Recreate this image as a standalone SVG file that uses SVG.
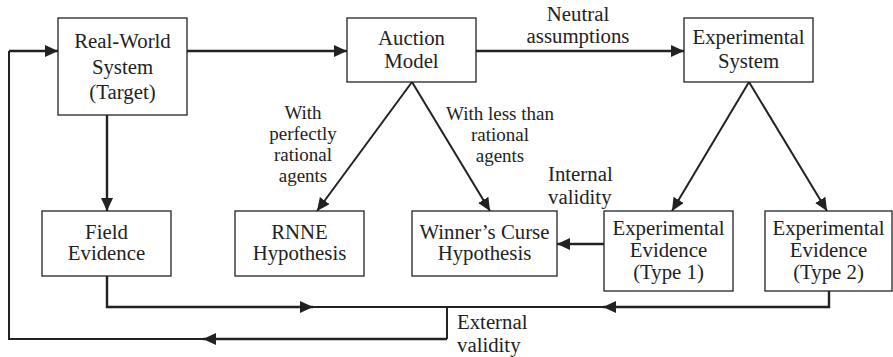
<svg xmlns="http://www.w3.org/2000/svg" width="893" height="357" viewBox="0 0 893 357">
<style>
.box{fill:#fff;stroke:#222;stroke-width:1.3}
text{font-family:'Liberation Serif','Times New Roman',serif;font-size:20.8px;fill:#222}
.t{text-anchor:middle}
.tl{text-anchor:start}
.s{font-size:19px}
.c{fill:none;stroke:#222;stroke-width:2.4}
.d{fill:none;stroke:#222;stroke-width:2}
</style>
<defs>
<marker id="a" markerUnits="userSpaceOnUse" markerWidth="14" markerHeight="12" refX="13" refY="6" orient="auto">
<path d="M0,0 L13,6 L0,12 Z" fill="#222"/>
</marker>
</defs>
<g id="connectors">
<path class="c" d="M187,51 H347" marker-end="url(#a)"/>
<path class="c" d="M476,51 H684" marker-end="url(#a)"/>
<path class="c" d="M107,115 V211" marker-end="url(#a)"/>
<path class="d" d="M412,82 L317,211" marker-end="url(#a)"/>
<path class="d" d="M412,82 L490,211" marker-end="url(#a)"/>
<path class="d" d="M749,82 L672,211" marker-end="url(#a)"/>
<path class="d" d="M749,82 L827,211" marker-end="url(#a)"/>
<path class="c" d="M604,244 H557" marker-end="url(#a)"/>
<path class="c" d="M107,276 V307 H313" marker-end="url(#a)"/>
<path class="d" d="M313,307 H447"/>
<path class="c" d="M829,291 V307 H603" marker-end="url(#a)"/>
<path class="d" d="M603,307 H447 V339"/>
<path class="c" d="M447,339 H203" marker-end="url(#a)"/>
<path class="d" d="M203,339 H9 V51"/>
<path class="c" d="M9,51 H58" marker-end="url(#a)"/>
</g>
<g id="real-world">
<rect class="box" x="58" y="18" width="129" height="97"/>
<text class="t" x="122.5" y="48">Real-World</text>
<text class="t" x="122.5" y="74">System</text>
<text class="t" x="122.5" y="99">(Target)</text>
</g>
<g id="auction-model">
<rect class="box" x="347" y="18" width="129" height="64"/>
<text class="t" x="411.5" y="45">Auction</text>
<text class="t" x="411.5" y="68">Model</text>
</g>
<g id="experimental-system">
<rect class="box" x="684" y="18" width="129" height="64"/>
<text class="t" x="748.5" y="44">Experimental</text>
<text class="t" x="748.5" y="68">System</text>
</g>
<g id="field-evidence">
<rect class="box" x="42" y="211" width="129" height="65"/>
<text class="t" x="106.5" y="239">Field</text>
<text class="t" x="106.5" y="260">Evidence</text>
</g>
<g id="rnne">
<rect class="box" x="235" y="211" width="129" height="65"/>
<text class="t" x="299.5" y="239">RNNE</text>
<text class="t" x="299.5" y="260">Hypothesis</text>
</g>
<g id="winners-curse">
<rect class="box" x="412" y="211" width="145" height="65"/>
<text class="t" x="484.5" y="239">Winner’s Curse</text>
<text class="t" x="484.5" y="260">Hypothesis</text>
</g>
<g id="exp-evidence-1">
<rect class="box" x="604" y="211" width="129" height="80"/>
<text class="t" x="668.5" y="235">Experimental</text>
<text class="t" x="668.5" y="257">Evidence</text>
<text class="t" x="668.5" y="279">(Type 1)</text>
</g>
<g id="exp-evidence-2">
<rect class="box" x="765" y="211" width="127" height="80"/>
<text class="t" x="828.5" y="235">Experimental</text>
<text class="t" x="828.5" y="257">Evidence</text>
<text class="t" x="828.5" y="279">(Type 2)</text>
</g>
<g id="labels">
<text class="t" x="578" y="21">Neutral</text>
<text class="t" x="578" y="43">assumptions</text>
<text class="t s" x="303" y="119">With</text>
<text class="t s" x="303" y="140">perfectly</text>
<text class="t s" x="303" y="161">rational</text>
<text class="t s" x="303" y="182">agents</text>
<text class="t s" x="500" y="120">With less than</text>
<text class="t s" x="500" y="141">rational</text>
<text class="t s" x="500" y="162">agents</text>
<text class="tl" x="548" y="181">Internal</text>
<text class="tl" x="548" y="204">validity</text>
<text class="tl" x="457" y="329">External</text>
<text class="tl" x="457" y="352">validity</text>
</g>
</svg>
